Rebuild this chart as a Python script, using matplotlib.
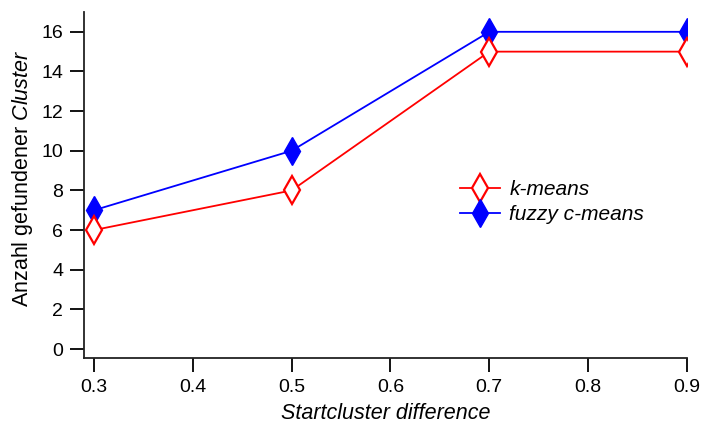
import matplotlib.pyplot as plt

plt.rcParams['font.family'] = ['Liberation Sans', 'DejaVu Sans']
plt.rcParams['mathtext.fontset'] = 'custom'
plt.rcParams['mathtext.rm'] = 'Liberation Sans'
plt.rcParams['mathtext.it'] = 'Liberation Sans:italic'

# Daten
start_diff = [0.3, 0.5, 0.7, 0.9]
kmeans = [6, 8, 15, 15]
fuzzy = [7, 10, 16, 16]

fig = plt.figure(figsize=(7.02, 4.28), dpi=100)
ax = fig.add_axes([0.1197, 0.1636, 0.8589, 0.8084])

ax.plot(start_diff, kmeans, color='red', lw=1.3, marker='d', ms=14,
        mfc='white', mec='red', mew=1.6, label='k-means', zorder=3)
ax.plot(start_diff, fuzzy, color='blue', lw=1.3, marker='d', ms=14,
        mfc='blue', mec='blue', mew=1.0, label='fuzzy c-means', zorder=2)

ax.set_xlim(0.29, 0.9)
ax.set_ylim(-0.45, 17.0)
ax.set_xticks([0.3, 0.4, 0.5, 0.6, 0.7, 0.8, 0.9])
ax.set_yticks(range(0, 17, 2))

for s in ['top', 'right']:
    ax.spines[s].set_visible(False)
for s in ['left', 'bottom']:
    ax.spines[s].set_linewidth(1.3)
    ax.spines[s].set_color('#222222')
ax.tick_params(direction='out', length=10, width=1.3, labelsize=14, pad=5)

ax.set_xlabel('Startcluster difference', fontsize=15.5, style='italic', labelpad=5)
ax.set_ylabel('Anzahl gefundener $\\mathit{Cluster}$', fontsize=15.5)
ax.yaxis.set_label_coords(-0.082, 0.52)

leg = ax.legend(loc='center left', bbox_to_anchor=(0.624, 0.45), frameon=False,
                fontsize=15, handlelength=1.9, handletextpad=0.45,
                labelspacing=0.3, borderaxespad=0, borderpad=0)
for t in leg.get_texts():
    t.set_style('italic')

fig.savefig('out.png', dpi=100)
